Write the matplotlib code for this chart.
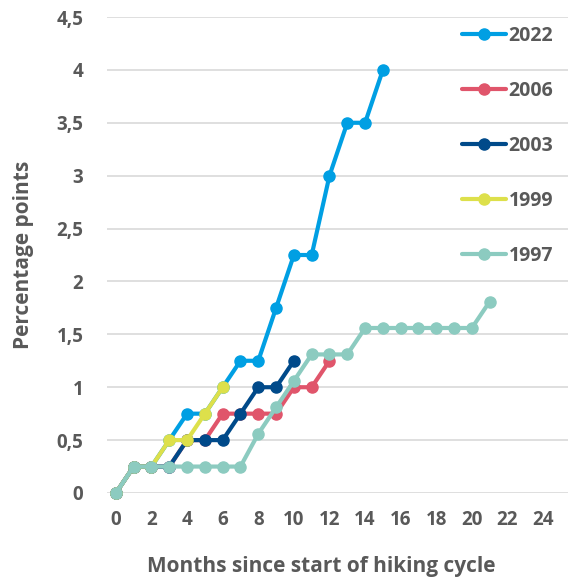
import matplotlib
matplotlib.use('Agg')
import matplotlib.pyplot as plt

plt.rcParams['font.family'] = ['Open Sans', 'DejaVu Sans']

months = list(range(22))

# percentage points by month since the start of each hiking cycle
y2022 = [0, 0.25, 0.25, 0.5, 0.75, 0.75, 1, 1.25, 1.25, 1.75, 2.25, 2.25, 3, 3.5, 3.5, 4]
y2006 = [0, 0.25, 0.25, 0.25, 0.5, 0.5, 0.75, 0.75, 0.75, 0.75, 1, 1, 1.25]
y2003 = [0, 0.25, 0.25, 0.25, 0.5, 0.5, 0.5, 0.75, 1, 1, 1.25]
y1999 = [0, 0.25, 0.25, 0.5, 0.5, 0.75, 1]
y1997 = [0, 0.25, 0.25, 0.25, 0.25, 0.25, 0.25, 0.25, 0.56, 0.81, 1.06, 1.31, 1.31,
         1.31, 1.56, 1.56, 1.56, 1.56, 1.56, 1.56, 1.56, 1.81]

series = [('2022', y2022, '#009fe3'),
          ('2006', y2006, '#e0556b'),
          ('2003', y2003, '#004a8a'),
          ('1999', y1999, '#dde04b'),
          ('1997', y1997, '#8ccbc0')]

yticks = [0, 0.5, 1, 1.5, 2, 2.5, 3, 3.5, 4, 4.5]
ytick_labels = ['0', '0,5', '1', '1,5', '2', '2,5', '3', '3,5', '4', '4,5']
xticks = list(range(0, 25, 2))

grey = '#595959'

fig = plt.figure(figsize=(5.68, 5.82), dpi=100)
ax = fig.add_axes([107 / 568, 1 - 493 / 582, 1 - 107 / 568, (493 - 17) / 582])

for label, vals, col in series:
    ax.plot(months[:len(vals)], vals, color=col, linewidth=3, marker='o',
            markersize=8, label=label, clip_on=False, solid_capstyle='round')

ax.set_xlim(-0.5, 25.4)
ax.set_ylim(0, 4.5)
ax.set_yticks(yticks)
ax.set_yticklabels(ytick_labels)
ax.set_xticks(xticks)
ax.grid(axis='y', color='#d9d9d9', linewidth=1.2)
ax.set_axisbelow(True)
for s in ax.spines.values():
    s.set_visible(False)
ax.tick_params(axis='both', length=0, labelsize=13.5, labelcolor=grey)
ax.tick_params(axis='y', pad=17)
ax.tick_params(axis='x', pad=12)
for t in ax.get_xticklabels() + ax.get_yticklabels():
    t.set_fontweight('bold')

ax.set_xlabel('Months since start of hiking cycle', fontsize=15, fontweight='bold',
              color=grey)
ax.xaxis.set_label_coords(0.464, -0.133)
ax.set_ylabel('Percentage points', fontsize=15, fontweight='bold', color=grey)
ax.yaxis.set_label_coords(-0.158, 0.5)

leg = ax.legend(loc='upper left', bbox_to_anchor=(462 / 568, 1 - 26 / 582),
                bbox_transform=fig.transFigure, frameon=False, fontsize=14,
                labelspacing=1.80, handlelength=2.25, handletextpad=0.15,
                borderpad=0, borderaxespad=0)
for t in leg.get_texts():
    t.set_fontweight('bold')
    t.set_color(grey)

fig.savefig('out.png', dpi=100)
